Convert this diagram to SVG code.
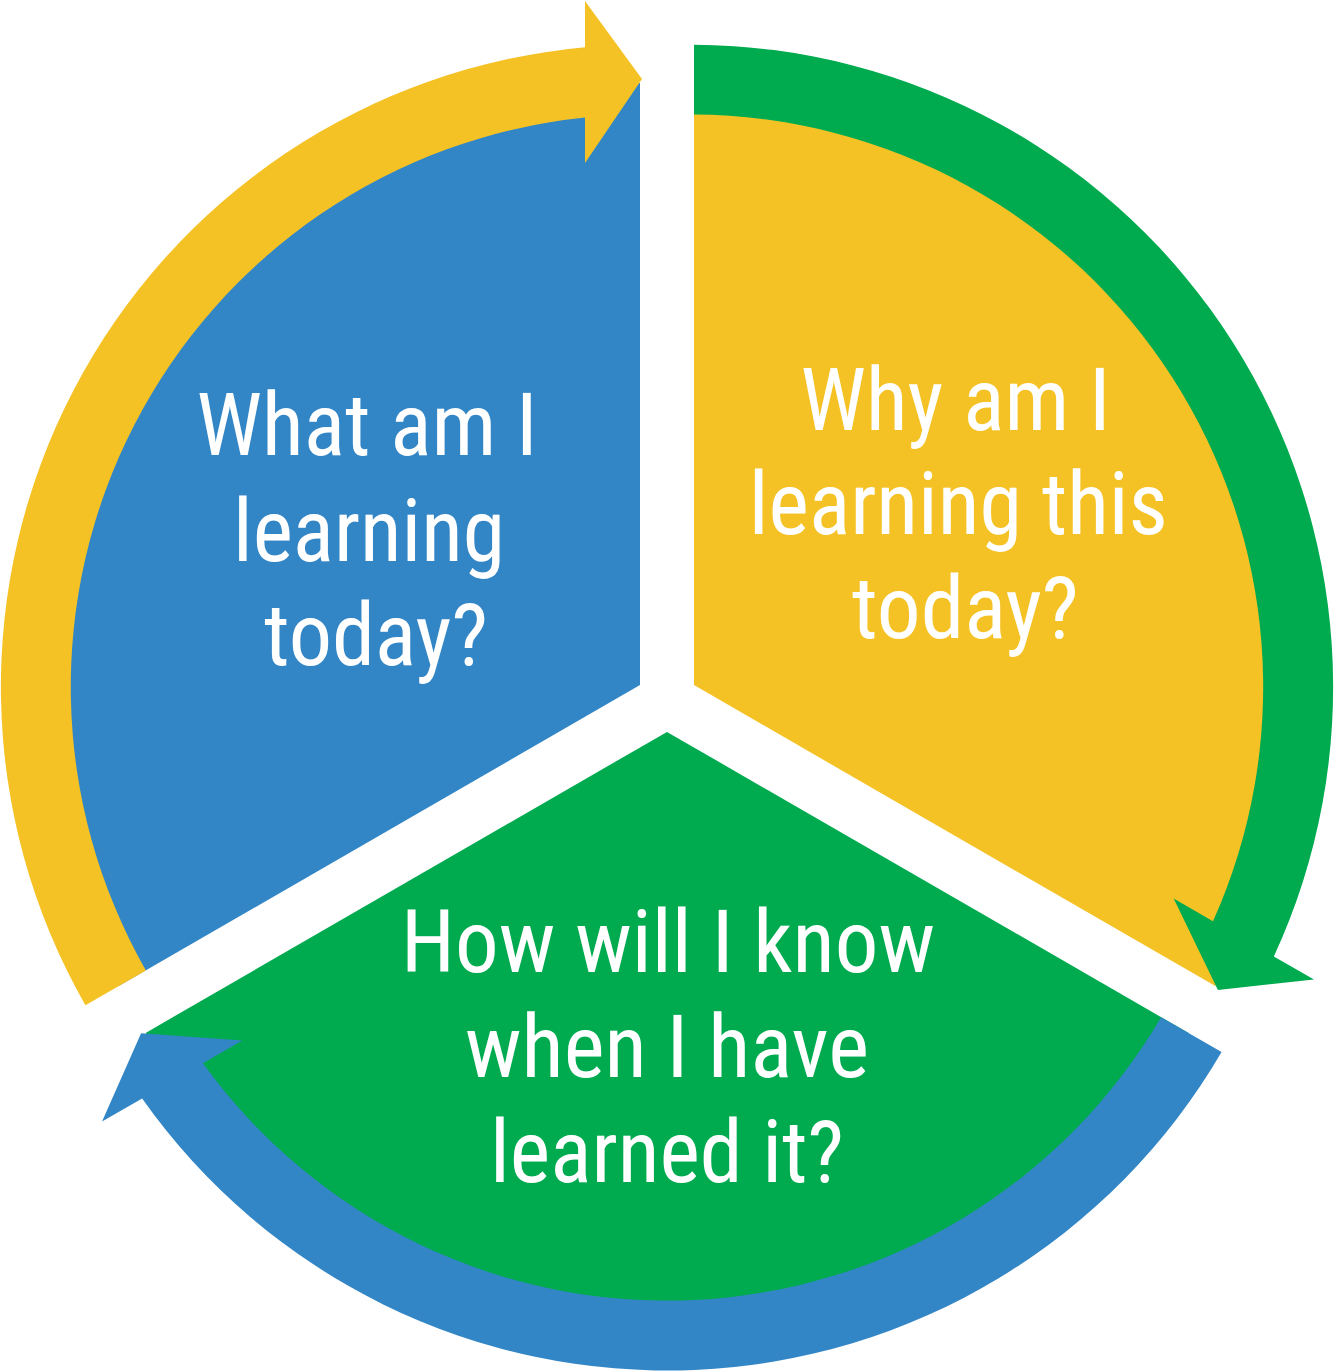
<svg xmlns="http://www.w3.org/2000/svg" xmlns:xlink="http://www.w3.org/1999/xlink" width="1335" height="1371" viewBox="0 0 1335 1371">
  <style>
    .lbl { font-family: "Roboto Condensed", Roboto, "Liberation Sans", sans-serif; font-size: 88px; fill: #ffffff; text-anchor: middle; }
    .blue { fill: #3386c6; }
    .yellow { fill: #f5c225; }
    .green { fill: #00ab50; }
  </style>
  <defs>
    <path id="slice" d="M -27,-617.6 L -27,-15.6 L -548.3,285.4 A 602 602 0 0 1 -27,-617.6 Z"/>
    <path id="arrow" d="M -581.6,304.6 A 642.2 642.2 0 0 1 -82,-653.4 L -82,-699.7 L -25,-621.7 L -82,-537.7 L -82,-583.1 A 572.3 572.3 0 0 0 -521.1,269.7 Z"/>
  </defs>
  <rect width="1335" height="1371" fill="#ffffff"/>
  <g id="node-what">
    <use xlink:href="#slice" href="#slice" class="blue" transform="translate(667,700.7)"/>
    <text class="lbl" x="367" y="455" textLength="341" lengthAdjust="spacingAndGlyphs">What am I</text>
    <text class="lbl" x="369" y="560.5" textLength="272" lengthAdjust="spacingAndGlyphs">learning</text>
    <text class="lbl" x="376" y="665" textLength="224" lengthAdjust="spacingAndGlyphs">today?</text>
  </g>
  <g id="node-why">
    <use xlink:href="#slice" href="#slice" class="yellow" transform="translate(667,700.7) rotate(120)"/>
    <text class="lbl" x="955.5" y="430" textLength="310" lengthAdjust="spacingAndGlyphs">Why am I</text>
    <text class="lbl" x="958.3" y="534.3" textLength="419" lengthAdjust="spacingAndGlyphs">learning this</text>
    <text class="lbl" x="965.3" y="638.3" textLength="227" lengthAdjust="spacingAndGlyphs">today?</text>
  </g>
  <g id="node-how">
    <use xlink:href="#slice" href="#slice" class="green" transform="translate(667,700.7) rotate(240)"/>
    <text class="lbl" x="668" y="971.5" textLength="534" lengthAdjust="spacingAndGlyphs">How will I know</text>
    <text class="lbl" x="667" y="1076.5" textLength="404" lengthAdjust="spacingAndGlyphs">when I have</text>
    <text class="lbl" x="667" y="1181.5" textLength="354" lengthAdjust="spacingAndGlyphs">learned it?</text>
  </g>
  <g id="connectors">
    <use xlink:href="#arrow" href="#arrow" class="yellow" transform="translate(667,700.7)"/>
    <use xlink:href="#arrow" href="#arrow" class="green" transform="translate(667,700.7) rotate(120)"/>
    <use xlink:href="#arrow" href="#arrow" class="blue" transform="translate(667,700.7) rotate(240)"/>
  </g>
</svg>
